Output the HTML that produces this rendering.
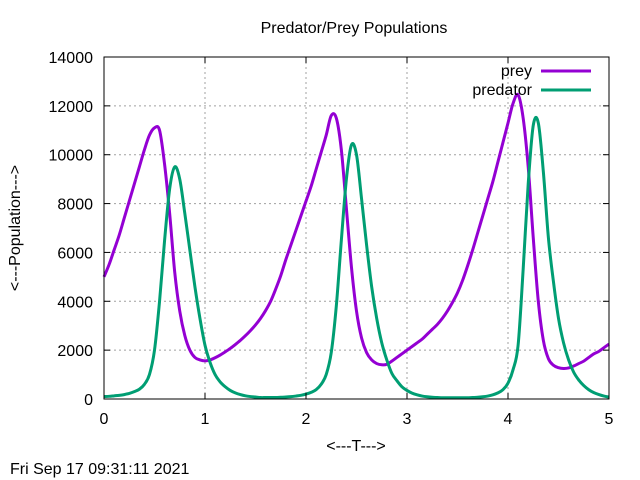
<!DOCTYPE html>
<html><head><meta charset="utf-8">
<style>
html,body{margin:0;padding:0;background:#fff;}
svg{display:block;font-family:"Liberation Sans",sans-serif;}
</style></head>
<body>
<svg id="chart" width="640" height="480" viewBox="0 0 640 480" xmlns="http://www.w3.org/2000/svg">
<rect width="640" height="480" fill="#fff"/>
<g id="grid"></g>
<g id="series"></g>
<rect x="104" y="57" width="505" height="342" fill="none" stroke="#000" stroke-width="1"/>
<g id="ticks"></g>
<text x="354" y="33" font-size="16" text-anchor="middle">Predator/Prey Populations</text>
<text x="356" y="451" font-size="16" text-anchor="middle">&lt;---T---&gt;</text>
<text transform="translate(20,228) rotate(-90)" font-size="16" text-anchor="middle">&lt;---Population---&gt;</text>
<text x="10" y="474" font-size="16">Fri Sep 17 09:31:11 2021</text>
<g>
<g>
<text x="532" y="76" font-size="16" text-anchor="end">prey</text>
<line x1="541" y1="71" x2="591" y2="71" stroke="#9400d3" stroke-width="3"/>
</g>
<g>
<text x="532" y="95" font-size="16" text-anchor="end">predator</text>
<line x1="541" y1="90" x2="591" y2="90" stroke="#009e73" stroke-width="3"/>
</g>
</g>
</svg>
<script>
const xTicks = [0, 1, 2, 3, 4, 5];
const yTicks = [0, 2000, 4000, 6000, 8000, 10000, 12000, 14000];
const tStep = 0.05;
const prey = [5000,5500,6100,6700,7400,8100,8800,9500,10200,10800,11100,11000,9600,7600,5200,3600,2600,2000,1700,1600,
1560,1600,1690,1800,1930,2070,2230,2400,2590,2800,3030,3300,3620,4000,4500,5050,5700,6300,6900,7500,
8100,8700,9400,10100,10800,11600,11500,10200,7800,5400,3600,2500,1900,1600,1450,1400,1420,1550,1700,1850,
2000,2150,2300,2450,2650,2850,3050,3300,3600,3950,4350,4850,5450,6100,6800,7500,8200,8900,9700,10500,
11300,12100,12450,11500,9500,6600,4000,2400,1650,1380,1280,1250,1270,1350,1450,1550,1700,1850,1950,2100,2250];
const predator = [100,110,130,150,180,230,300,400,600,1000,2000,4000,6500,8600,9500,9000,7600,6100,4600,3300,
2200,1500,1000,700,500,350,250,180,130,100,80,60,60,60,60,70,80,95,120,150,
200,270,380,600,1000,1900,3800,6500,9000,10400,10000,8200,6300,4600,3300,2300,1600,1050,750,500,
350,240,170,120,90,70,60,50,50,50,50,50,50,60,70,90,120,170,250,380,
650,1200,2200,5300,8800,11200,11300,9300,6600,4800,3300,2300,1600,1100,780,550,380,260,180,120,80];

const X0=104,X1=609,Y0=399,Y1=57;
function xs(v){return X0+(v-0)/(5-0)*(X1-X0);}
function ys(v){return Y0-(v-0)/(14000-0)*(Y0-Y1);}
const NS="http://www.w3.org/2000/svg";
const grid=document.getElementById('grid'), ticks=document.getElementById('ticks'), series=document.getElementById('series');
function mk(tag,attrs,parent){const e=document.createElementNS(NS,tag);for(const k in attrs)e.setAttribute(k,attrs[k]);parent.appendChild(e);return e;}

xTicks.forEach(v=>{
  const x=xs(v);
  if(v>0&&v<5){const g=mk('line',{x1:x,y1:Y1,x2:x,y2:Y0,stroke:'#a0a0a0','stroke-dasharray':'2,3','stroke-width':1},grid);
  
  }
  const t1=mk('line',{x1:x,y1:Y0,x2:x,y2:Y0-6,stroke:'#000'},ticks);
  
  
  const t2=mk('line',{x1:x,y1:Y1,x2:x,y2:Y1+6,stroke:'#000'},ticks);
  
  
  const l=mk('text',{x:x,y:Y0+25,'font-size':16,'text-anchor':'middle'},ticks);
  l.textContent=String(v);
  
  
});
yTicks.forEach(v=>{
  const y=ys(v);
  if(v>0&&v<14000){const g=mk('line',{x1:X0,y1:y,x2:X1,y2:y,stroke:'#a0a0a0','stroke-dasharray':'2,3','stroke-width':1},grid);
  
  }
  const t1=mk('line',{x1:X0,y1:y,x2:X0+6,y2:y,stroke:'#000'},ticks);
  
  
  const t2=mk('line',{x1:X1,y1:y,x2:X1-6,y2:y,stroke:'#000'},ticks);
  
  
  const l=mk('text',{x:X0-11,y:y+6,'font-size':16,'text-anchor':'end'},ticks);
  l.textContent=String(v);
  
  
});
function path(vals){
  const pts=vals.map((v,i)=>[xs(i*tStep),ys(v)]);
  let d='M'+pts[0][0]+','+pts[0][1];
  for(let i=0;i<pts.length-1;i++){
    const p0=pts[i-1]||pts[i],p1=pts[i],p2=pts[i+1],p3=pts[i+2]||p2;
    const c1x=p1[0]+(p2[0]-p0[0])/6,c1y=p1[1]+(p2[1]-p0[1])/6;
    const c2x=p2[0]-(p3[0]-p1[0])/6,c2y=p2[1]-(p3[1]-p1[1])/6;
    d+=' C'+c1x+','+c1y+' '+c2x+','+c2y+' '+p2[0]+','+p2[1];
  }
  return d;
}
const pp=mk('path',{d:path(prey),fill:'none',stroke:'#9400d3','stroke-width':3,'stroke-linejoin':'round'},series);


const pd=mk('path',{d:path(predator),fill:'none',stroke:'#009e73','stroke-width':3,'stroke-linejoin':'round'},series);


</script>
</body></html>
